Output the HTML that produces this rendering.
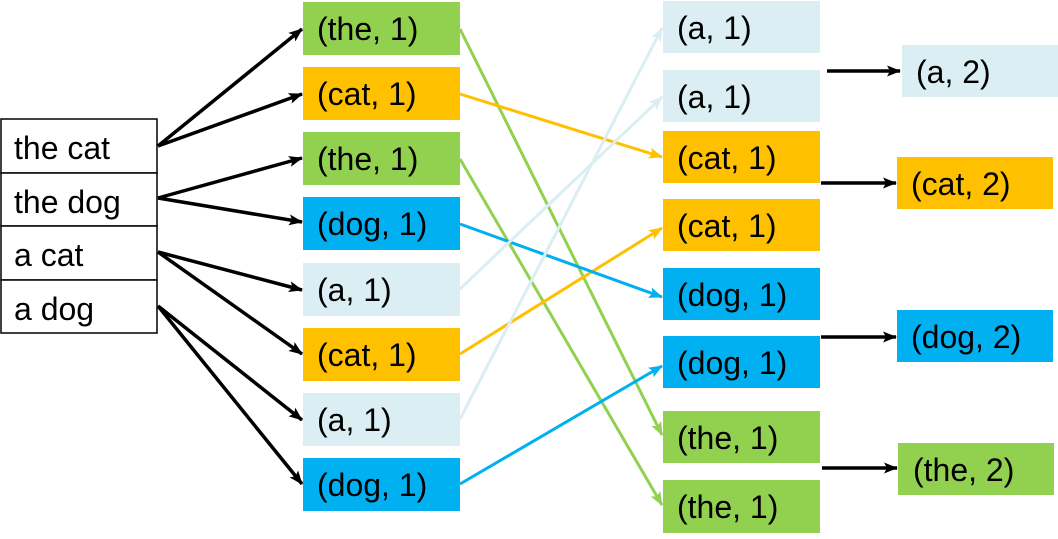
<!DOCTYPE html>
<html><head><meta charset="utf-8"><style>
body{margin:0;width:1058px;height:534px;background:#fff;overflow:hidden}
svg text{font-family:"Liberation Sans",Arial,sans-serif;font-size:32px;fill:#000}
</style></head><body>
<svg width="1058" height="534" viewBox="0 0 1058 534" xmlns="http://www.w3.org/2000/svg">
<defs>
<marker id="k" markerWidth="14" markerHeight="11" refX="13" refY="5.5" orient="auto" markerUnits="userSpaceOnUse"><path d="M0,0 L14,5.5 L0,11 L3,5.5z" fill="#000"/></marker>
<marker id="g" markerWidth="14" markerHeight="11" refX="13" refY="5.5" orient="auto" markerUnits="userSpaceOnUse"><path d="M0,0 L14,5.5 L0,11 L3,5.5z" fill="#92d050"/></marker>
<marker id="o" markerWidth="14" markerHeight="11" refX="13" refY="5.5" orient="auto" markerUnits="userSpaceOnUse"><path d="M0,0 L14,5.5 L0,11 L3,5.5z" fill="#ffc000"/></marker>
<marker id="b" markerWidth="14" markerHeight="11" refX="13" refY="5.5" orient="auto" markerUnits="userSpaceOnUse"><path d="M0,0 L14,5.5 L0,11 L3,5.5z" fill="#00b0f0"/></marker>
<marker id="l" markerWidth="14" markerHeight="11" refX="13" refY="5.5" orient="auto" markerUnits="userSpaceOnUse"><path d="M0,0 L14,5.5 L0,11 L3,5.5z" fill="#daeef3"/></marker>
</defs>
<g stroke="#000" stroke-width="1.5" fill="#fff">
<rect x="1" y="119" width="156" height="54"/><rect x="1" y="173" width="156" height="53"/>
<rect x="1" y="226" width="156" height="54"/><rect x="1" y="280" width="156" height="53"/>
</g>
<text x="14" y="159">the cat</text><text x="14" y="213">the dog</text>
<text x="14" y="266">a cat</text><text x="14" y="320">a dog</text>
<g stroke="#000" stroke-width="3.5" marker-end="url(#k)">
<line x1="158" y1="146" x2="302" y2="29"/><line x1="158" y1="146" x2="302" y2="94"/>
<line x1="158" y1="198" x2="302" y2="158"/><line x1="158" y1="198" x2="302" y2="222"/>
<line x1="158" y1="252" x2="302" y2="290"/><line x1="158" y1="252" x2="302" y2="354"/>
<line x1="158" y1="306" x2="302" y2="420"/><line x1="158" y1="306" x2="302" y2="484"/>
</g>
<g>
<rect x="303" y="2" width="157" height="53" fill="#92d050"/>
<rect x="303" y="67" width="157" height="53" fill="#ffc000"/>
<rect x="303" y="132" width="157" height="53" fill="#92d050"/>
<rect x="303" y="197" width="157" height="53" fill="#00b0f0"/>
<rect x="303" y="263" width="157" height="53" fill="#daeef3"/>
<rect x="303" y="328" width="157" height="53" fill="#ffc000"/>
<rect x="303" y="393" width="157" height="53" fill="#daeef3"/>
<rect x="303" y="458" width="157" height="53" fill="#00b0f0"/>
</g>
<text x="317" y="40">(the, 1)</text><text x="317" y="105">(cat, 1)</text>
<text x="317" y="170">(the, 1)</text><text x="317" y="235">(dog, 1)</text>
<text x="317" y="301">(a, 1)</text><text x="317" y="366">(cat, 1)</text>
<text x="317" y="431">(a, 1)</text><text x="317" y="496">(dog, 1)</text>
<g stroke-width="3" fill="none">
<line x1="460" y1="29" x2="662" y2="435" stroke="#92d050" marker-end="url(#g)"/>
<line x1="460" y1="159" x2="662" y2="505" stroke="#92d050" marker-end="url(#g)"/>
<line x1="460" y1="94" x2="662" y2="157" stroke="#ffc000" marker-end="url(#o)"/>
<line x1="460" y1="354" x2="662" y2="228" stroke="#ffc000" marker-end="url(#o)"/>
<line x1="460" y1="224" x2="662" y2="297" stroke="#00b0f0" marker-end="url(#b)"/>
<line x1="460" y1="484" x2="662" y2="366" stroke="#00b0f0" marker-end="url(#b)"/>
<line x1="460" y1="289" x2="662" y2="97" stroke="#daeef3" marker-end="url(#l)"/>
<line x1="460" y1="419" x2="662" y2="28" stroke="#daeef3" marker-end="url(#l)"/>
</g>
<g>
<rect x="663" y="1" width="157" height="52" fill="#daeef3"/>
<rect x="663" y="70" width="157" height="52" fill="#daeef3"/>
<rect x="663" y="131" width="157" height="52" fill="#ffc000"/>
<rect x="663" y="199" width="157" height="52" fill="#ffc000"/>
<rect x="663" y="268" width="157" height="52" fill="#00b0f0"/>
<rect x="663" y="336" width="157" height="52" fill="#00b0f0"/>
<rect x="663" y="411" width="157" height="52" fill="#92d050"/>
<rect x="663" y="480" width="157" height="53" fill="#92d050"/>
</g>
<text x="677" y="39">(a, 1)</text><text x="677" y="108">(a, 1)</text>
<text x="677" y="169">(cat, 1)</text><text x="677" y="237">(cat, 1)</text>
<text x="677" y="306">(dog, 1)</text><text x="677" y="374">(dog, 1)</text>
<text x="677" y="449">(the, 1)</text><text x="677" y="518">(the, 1)</text>
<g stroke="#000" stroke-width="3.5" marker-end="url(#k)">
<line x1="827" y1="71" x2="900" y2="71"/><line x1="821" y1="183" x2="896" y2="183"/>
<line x1="821" y1="337" x2="896" y2="337"/><line x1="822" y1="468" x2="897" y2="468"/>
</g>
<rect x="902" y="45" width="156" height="52" fill="#daeef3"/>
<rect x="897" y="157" width="156" height="52" fill="#ffc000"/>
<rect x="897" y="310" width="156" height="52" fill="#00b0f0"/>
<rect x="898" y="443" width="156" height="52" fill="#92d050"/>
<text x="916" y="83">(a, 2)</text><text x="911" y="195">(cat, 2)</text>
<text x="911" y="348">(dog, 2)</text><text x="913" y="481">(the, 2)</text>
</svg>
</body></html>
